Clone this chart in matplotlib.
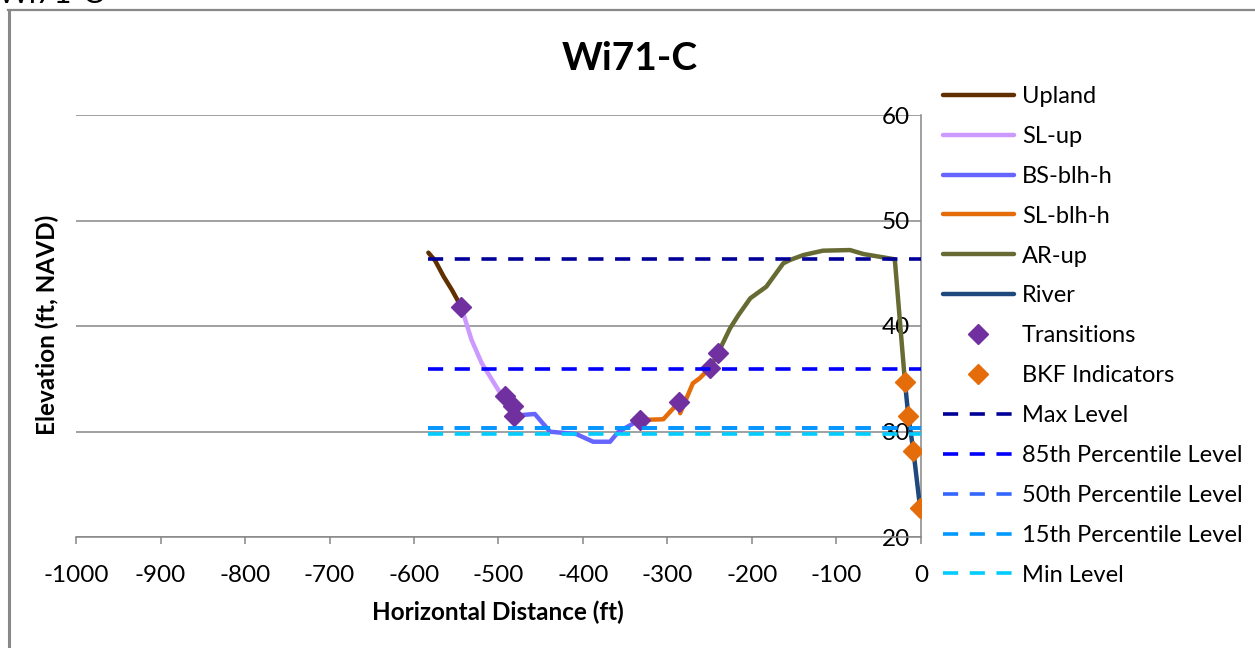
import matplotlib
matplotlib.use("Agg")
import matplotlib.pyplot as plt
from matplotlib.lines import Line2D

plt.rcParams['font.family'] = ['Lato', 'DejaVu Sans']

# cross-section segments (distance ft, elevation ft NAVD)
upland_x = [-583, -575, -565, -555, -544]
upland_y = [46.95, 46.2, 44.7, 43.4, 41.8]
slup_x = [-544, -532, -520, -510, -498, -492, -483, -482]
slup_y = [41.8, 38.7, 36.5, 35.2, 33.65, 33.36, 32.45, 31.5]
bs_x = [-482, -457, -439, -408, -388, -368, -358, -333]
bs_y = [31.5, 31.66, 29.98, 29.76, 29.03, 29.03, 29.98, 31.09]
slblh_x = [-333, -305, -286, -285, -270, -262, -250]
slblh_y = [31.09, 31.16, 32.82, 31.73, 34.57, 35.04, 36.0]
arup_x = [-250, -240, -226, -216, -202, -183, -163, -155, -139, -116, -84, -68, -31, -19]
arup_y = [36.0, 37.47, 39.78, 41.04, 42.63, 43.73, 45.94, 46.26, 46.73, 47.14, 47.2, 46.82, 46.32, 34.7]
river_x = [-19, -15, -9, -1]
river_y = [34.7, 31.47, 28.18, 22.72]

trans_x = [-544, -492, -483, -482, -333, -286, -250, -240]
trans_y = [41.8, 33.36, 32.45, 31.5, 31.09, 32.82, 36.0, 37.47]
bkf_x = [-19, -15, -9, -1]
bkf_y = [34.7, 31.47, 28.18, 22.72]

level_names = ["Max Level", "85th Percentile Level", "50th Percentile Level",
               "15th Percentile Level", "Min Level"]
level_values = [46.35, 35.92, 30.33, 30.33, 29.76]
level_span = [-583, 0]

x_ticks = list(range(-1000, 1, 100))
y_ticks = [20, 30, 40, 50, 60]

seg_colors = ["#603000", "#CC99FF", "#6666FF", "#E46C0A", "#676A33", "#1F497D"]
level_colors = ["#000099", "#0000FF", "#3366FF", "#0099FF", "#00CCFF"]

fig = plt.figure(figsize=(12.55, 6.48), dpi=100)
ax = fig.add_axes([76 / 1255, 1 - 537 / 648, 845 / 1255, 422 / 648])

segments = [("Upland", upland_x, upland_y), ("SL-up", slup_x, slup_y),
            ("BS-blh-h", bs_x, bs_y), ("SL-blh-h", slblh_x, slblh_y),
            ("AR-up", arup_x, arup_y), ("River", river_x, river_y)]
for (name, xs, ys), c in zip(segments, seg_colors):
    ax.plot(xs, ys, color=c, lw=3.2, label=name, solid_capstyle='round', zorder=3)

ax.plot(trans_x, trans_y, ls='none', marker='D', ms=10, color="#7030A0",
        label="Transitions", zorder=4)
ax.plot(bkf_x, bkf_y, ls='none', marker='D', ms=10, color="#E46C0A",
        label="BKF Indicators", zorder=4)

for name, v, c in zip(level_names, level_values, level_colors):
    ax.plot(level_span, [v, v], color=c, lw=2.6, dashes=(4.2, 3.2),
            label=name, zorder=5)

ax.set_xlim(-1000, 0)
ax.set_ylim(20, 60)
ax.set_xticks(x_ticks)
ax.set_yticks(y_ticks)
ax.set_xticklabels([str(t) for t in x_ticks])
ax.grid(axis='y', color="#868686", lw=1.1)
ax.set_axisbelow(True)

for s in ['top', 'left']:
    ax.spines[s].set_visible(False)
for s in ['bottom', 'right']:
    ax.spines[s].set_color("#868686")
    ax.spines[s].set_linewidth(1.1)

ax.yaxis.tick_right()
ax.tick_params(axis='y', length=0, pad=-8, labelsize=17.5)
for lab in ax.get_yticklabels():
    lab.set_ha('right')
ax.tick_params(axis='x', length=5, width=1.1, color="#868686", pad=15, labelsize=17.5)

fig.text(630 / 1255, 1 - 59 / 648, "Wi71-C", ha='center', va='center',
         fontsize=28, fontweight='bold')
fig.text(498 / 1255, 1 - 612 / 648, "Horizontal Distance (ft)", ha='center',
         va='center', fontsize=17.5, fontweight='bold')
fig.text(47 / 1255, 1 - 325 / 648, "Elevation (ft, NAVD)", ha='center',
         va='center', rotation=90, fontsize=17.5, fontweight='bold')

# piece of the page heading cut off at the top edge
fig.text(-0.002, 1 - 3 / 648, "Wi71-C", ha='left', va='baseline', fontsize=22)

# chart frame
fig.add_artist(Line2D([8 / 1255, 1], [1 - 10 / 648, 1 - 10 / 648],
                      transform=fig.transFigure, color="#888888", lw=1.6))
fig.add_artist(Line2D([9 / 1255, 9 / 1255], [0, 1 - 10 / 648],
                      transform=fig.transFigure, color="#888888", lw=2.2))

ax.legend(loc='upper left', bbox_to_anchor=(943 / 1255, 1 - 86 / 648),
          bbox_transform=fig.transFigure, frameon=False, fontsize=17,
          handlelength=3.0, handletextpad=0.35, labelspacing=0.8,
          borderaxespad=0, borderpad=0)

fig.savefig("out.png", dpi=100)
